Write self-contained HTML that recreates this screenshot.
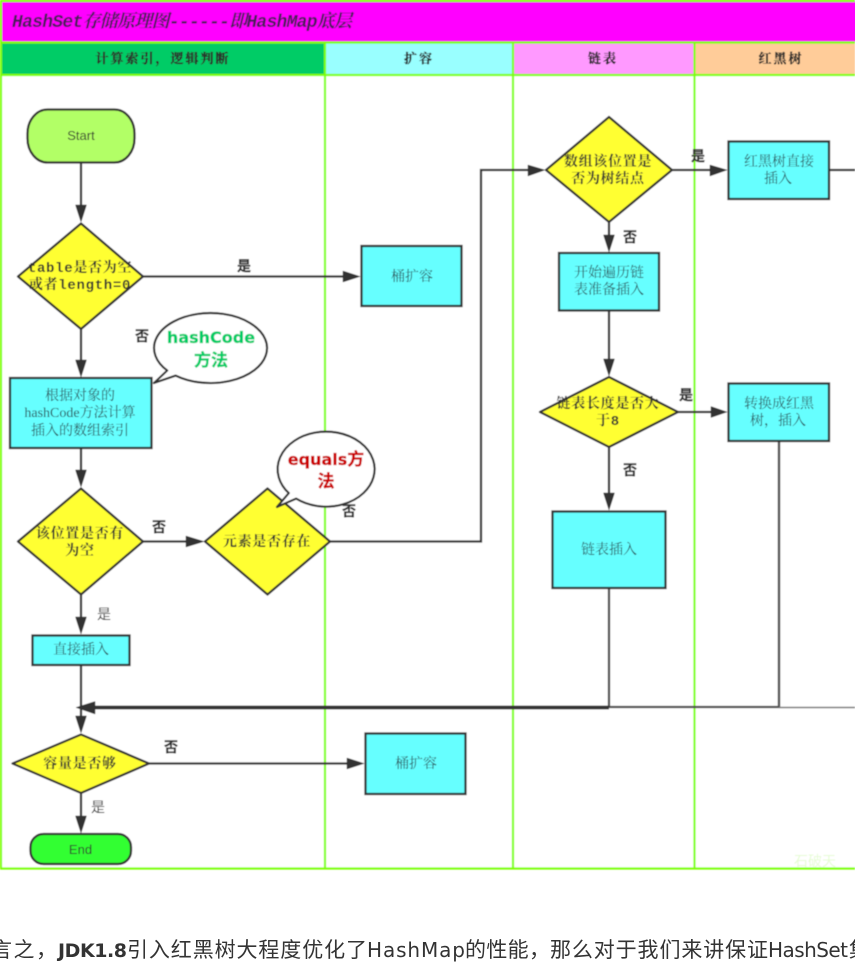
<!DOCTYPE html>
<html lang="zh"><head><meta charset="utf-8"><title>HashSet存储原理图</title>
<style>
html,body{margin:0;padding:0;background:#fff;width:855px;height:964px;overflow:hidden}
svg{display:block}
.n{font:14px "Liberation Serif","Noto Serif CJK SC",serif;fill:#2f4f55;text-anchor:middle}
.d{font:bold 14px "Liberation Mono","Noto Serif CJK SC",serif;fill:#333;text-anchor:middle;letter-spacing:.7px}
.h{font:bold 13px "Noto Serif CJK SC",serif;fill:#2b2b2b;stroke:#2b2b2b;stroke-width:.3;text-anchor:middle;letter-spacing:2px}
.l{font:bold 14px "Noto Sans CJK SC",sans-serif;fill:#333;stroke:#333;stroke-width:.3;text-anchor:middle}
.s{font:13px "Liberation Sans",sans-serif;fill:#333;text-anchor:middle}
.b{font:bold 16px "DejaVu Sans","Noto Sans CJK SC",sans-serif;text-anchor:middle;stroke-width:.3}
.b tspan{font-size:17px}
.f{font:21px "DejaVu Sans","Noto Sans CJK SC",sans-serif;fill:#333}
.st{stroke:#333;stroke-width:2.300;fill:none}
.cy{fill:#66ffff;stroke:#333;stroke-width:2.300}
.ye{fill:#ffff33;stroke:#333;stroke-width:2.300;stroke-linejoin:round}
.ar{fill:#333;stroke:#333;stroke-width:.5}
</style></head><body>
<svg width="855" height="964" viewBox="0 0 855 964" xmlns="http://www.w3.org/2000/svg">
<defs><filter id="bl" x="0" y="0" width="100%" height="100%"><feGaussianBlur stdDeviation="0.4"/></filter></defs>
<g filter="url(#bl)">
<rect width="855" height="868" fill="#fff"/>
<rect x="0" y="0" width="857" height="42" fill="#ff00ff"/>
<rect x="1" y="43" width="324" height="31" fill="#00cc66"/>
<rect x="325" y="43" width="188" height="31" fill="#99ffff"/>
<rect x="513" y="43" width="181" height="31" fill="#ff99ff"/>
<rect x="694" y="43" width="161" height="31" fill="#ffcc99"/>
<g stroke="#80ff00" stroke-width="2.200" fill="none">
<path d="M0 1H855M0 42.500H855M0 75H855M0 868.500H855"/>
<path d="M1 0V869M325 43V869M513 43V869M694.500 43V869"/>
</g>
<text x="12" y="27" textLength="340" style="font:italic bold 18px 'Liberation Mono','Noto Serif CJK SC',serif;fill:#4a1a5a">HashSet存储原理图------即HashMap底层</text>
<text class="h" x="163" y="63">计算索引，逻辑判断</text>
<text class="h" x="419" y="63">扩容</text>
<text class="h" x="603" y="63">链表</text>
<text class="h" x="781" y="63">红黑树</text>

<!-- connectors -->
<g class="st">
<path d="M81 163V208M81 329V362M81 448V472M81 595V620M81 665V720M81 793V818"/>
<path d="M143 276.500H346M143 541.500H190M149 763.500H350"/>
<path d="M330 541.500H481V170H530"/>
<path d="M672 170H714M829 170H855M609 222V238M609 311V362M609 447V496M678 412H714"/>
</g>
<path d="M609 588V707H779" stroke="#4a4a4a" stroke-width="2.300" fill="none"/>
<path d="M779 441V707" stroke="#555" stroke-width="2.500" fill="none"/>
<path d="M779 707.500H855" stroke="#777" stroke-width="1.500" fill="none"/>
<path d="M92 707.500H609" stroke="#333" stroke-width="3.800" fill="none"/>
<g class="ar">
<polygon points="81,222 75.500,205 86.500,205"/>
<polygon points="81,377 75.500,360 86.500,360"/>
<polygon points="81,487 75.500,470 86.500,470"/>
<polygon points="81,634 75.500,617 86.500,617"/>
<polygon points="81,733 75.500,716 86.500,716"/>
<polygon points="81,833 75.500,816 86.500,816"/>
<polygon points="360,276.500 343,271 343,282"/>
<polygon points="204,541.500 186,536 186,547"/>
<polygon points="364,763.500 347,758 347,769"/>
<polygon points="545,170 528,165 528,176"/>
<polygon points="727,170 710,165 710,176"/>
<polygon points="609,252 603.500,235 614.500,235"/>
<polygon points="609,376 603.500,359 614.500,359"/>
<polygon points="609,510 603.500,493 614.500,493"/>
<polygon points="727,412 711,406.500 711,417.500"/>
<polygon points="76,707.500 95,701.500 95,714"/>
</g>

<!-- nodes -->
<rect x="27.500" y="109.500" width="107" height="53" rx="20" ry="24" fill="#b2ff66" stroke="#333" stroke-width="2.300"/>
<text class="s" x="81" y="140">Start</text>
<polygon class="ye" points="81,223.500 143,276.500 81,329 18,276.500"/>
<text class="d" x="80" y="272">table是否为空</text>
<text class="d" x="80" y="289">或者length=0</text>
<rect class="cy" x="361.500" y="246" width="100" height="60"/>
<text class="n" x="412" y="281">桶扩容</text>
<rect class="cy" x="10" y="378" width="141.500" height="70"/>
<text class="n" x="80" y="400">根据对象的</text>
<text class="n" x="80" y="417">hashCode方法计算</text>
<text class="n" x="80" y="435">插入的数组索引</text>
<polygon class="ye" points="81,488.500 143,541.500 81,594.500 18,541.500"/>
<text class="d" x="80" y="538">该位置是否有</text>
<text class="d" x="80" y="555">为空</text>
<polygon class="ye" points="267.500,488.500 330,541.500 267.500,594.500 205,541.500"/>
<text class="d" x="267" y="546">元素是否存在</text>
<rect class="cy" x="32.500" y="635.500" width="97" height="29.500"/>
<text class="n" x="81" y="654">直接插入</text>
<polygon class="ye" points="81,734.500 149,763.500 81,793 12.500,763.500"/>
<text class="d" x="80" y="768">容量是否够</text>
<rect class="cy" x="365.500" y="733.500" width="100" height="60.500"/>
<text class="n" x="416" y="768">桶扩容</text>
<rect x="30.500" y="834" width="100.500" height="30" rx="13" fill="#33ff33" stroke="#333" stroke-width="2.300"/>
<text class="s" x="80.500" y="854">End</text>

<polygon class="ye" points="609,117 672,170 609,222 546,170"/>
<text class="d" x="608" y="166">数组该位置是</text>
<text class="d" x="608" y="183">否为树结点</text>
<rect class="cy" x="728.500" y="141.500" width="100.500" height="57.500"/>
<text class="n" x="779" y="166">红黑树直接</text>
<text class="n" x="778" y="183">插入</text>
<rect class="cy" x="559" y="253" width="100" height="57.500"/>
<text class="n" x="609" y="277">开始遍历链</text>
<text class="n" x="609" y="294">表准备插入</text>
<polygon class="ye" points="609,377 678,412 609,447 540,412"/>
<text class="d" x="608" y="408">链表长度是否大</text>
<text class="d" x="608" y="425">于8</text>
<rect class="cy" x="728.500" y="383.500" width="100.500" height="57.500"/>
<text class="n" x="779" y="408">转换成红黑</text>
<text class="n" x="778" y="425">树，插入</text>
<rect class="cy" x="552.500" y="511.500" width="113" height="76.500"/>
<text class="n" x="609" y="554">链表插入</text>

<!-- edge labels -->
<text class="l" x="244" y="271">是</text>
<text class="l" x="142" y="341">否</text>
<text class="l" x="698" y="161">是</text>
<text class="l" x="630" y="242">否</text>
<text class="l" x="686" y="400">是</text>
<text class="l" x="630" y="475">否</text>
<text class="l" x="159" y="532">否</text>
<text class="l" x="349" y="516">否</text>
<text class="l" x="171" y="752">否</text>
<text class="l" x="104" y="619" style="font-weight:400;stroke:none">是</text>
<text class="l" x="98" y="812" style="font-weight:400;stroke:none">是</text>

<!-- callouts -->
<path d="M167.200 370.500 A56.500 35 0 1 1 175.700 375.600 L154 383 Z" fill="#fff" stroke="#333" stroke-width="2.200" stroke-linejoin="round"/>
<text class="b" x="211" y="343" fill="#00cc66" stroke="#00cc66">hashCode</text>
<text class="b" x="211" y="366" fill="#00cc66" stroke="#00cc66"><tspan>方法</tspan></text>
<path d="M288.800 493.100 A48.500 37.500 0 1 1 296.100 498.600 L277 507 Z" fill="#fff" stroke="#333" stroke-width="2.200" stroke-linejoin="round"/>
<text class="b" x="326" y="465" fill="#cc0000" stroke="#cc0000">equals<tspan>方</tspan></text>
<text class="b" x="326" y="487" fill="#cc0000" stroke="#cc0000"><tspan>法</tspan></text>

<text x="815" y="866" style="font:14px 'Noto Sans CJK SC',sans-serif;fill:#e6fcd4;text-anchor:middle">石破天</text>
</g>

<text class="f" x="-9" y="957" textLength="66">言之，</text>
<text class="f" x="58" y="957" textLength="69" style="font-weight:bold;font-family:'DejaVu Sans',sans-serif;font-size:19px">JDK1.8</text>
<text class="f" x="127" y="957" textLength="240">引入红黑树大程度优化了</text>
<text class="f" x="367" y="957" textLength="98" style="font-size:20px">HashMap</text>
<text class="f" x="465" y="957" textLength="85">的性能，</text>
<text class="f" x="550" y="957" textLength="218">那么对于我们来讲保证</text>
<text class="f" x="768" y="957" textLength="80" style="font-size:20px">HashSet</text>
<text class="f" x="849" y="957">集</text>
</svg>
</body></html>
